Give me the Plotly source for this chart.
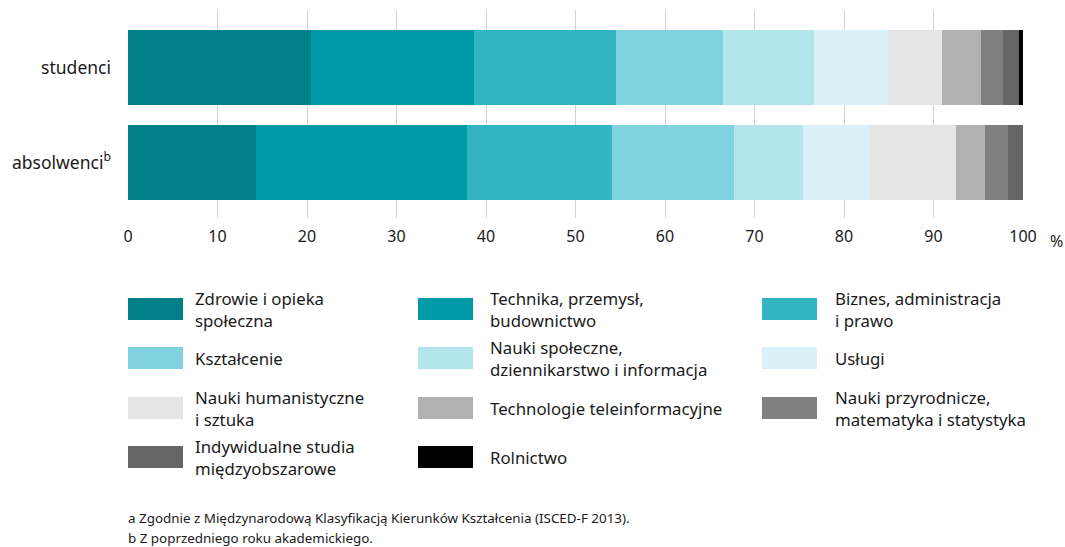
import plotly.graph_objects as go

groups = ["studenci", "absolwenci<sup>b</sup>"]

fields = [
    "Zdrowie i opieka<br>społeczna",
    "Technika, przemysł,<br>budownictwo",
    "Biznes, administracja<br>i prawo",
    "Kształcenie",
    "Nauki społeczne,<br>dziennikarstwo i informacja",
    "Usługi",
    "Nauki humanistyczne<br>i sztuka",
    "Technologie teleinformacyjne",
    "Nauki przyrodnicze,<br>matematyka i statystyka",
    "Indywidualne studia<br>międzyobszarowe",
    "Rolnictwo",
]

studenci = [20.4, 18.3, 15.8, 12.0, 10.2, 8.2, 6.0, 4.4, 2.5, 1.7, 0.5]
absolwenci = [14.3, 23.6, 16.2, 13.6, 7.7, 7.5, 9.6, 3.2, 2.6, 1.7, 0.0]

colors = ["#007f88", "#009aa6", "#33b4c3", "#80d3de", "#b3e5ec", "#daf2f7",
          "#e5e5e5", "#b1b1b1", "#808080", "#666666", "#000000"]

x_ticks = [0, 10, 20, 30, 40, 50, 60, 70, 80, 90, 100]

footnotes = [
    "a Zgodnie z Międzynarodową Klasyfikacją Kierunków Kształcenia (ISCED-F 2013).",
    "b Z poprzedniego roku akademickiego.",
]

FONT = "Noto Sans"
TXT = "#1a1a1a"
W, H = 1065, 547
L, R, T, B = 128, 42, 10, 329
pw, ph = W - L - R, H - T - B


def px_x(px):
    return (px - L) / pw


def px_y(py):
    return (H - B - py) / ph


fig = go.Figure()
for i, name in enumerate(fields):
    fig.add_trace(go.Bar(
        y=groups, x=[studenci[i], absolwenci[i]], orientation="h",
        name=name, marker=dict(color=colors[i], line_width=0),
        width=0.79, showlegend=False,
    ))

# legend drawn by hand: 3 columns, 4 rows, large swatches
col_sw = [128, 418, 762]
col_txt = [195, 490, 835]
row_y = [309, 358, 408, 457]
shapes = []
annotations = []
for i, name in enumerate(fields):
    r, c = divmod(i, 3)
    yc = row_y[r]
    shapes.append(dict(
        type="rect", xref="paper", yref="paper",
        x0=px_x(col_sw[c]), x1=px_x(col_sw[c] + 55),
        y0=px_y(yc - 11), y1=px_y(yc + 11),
        fillcolor=colors[i], line_width=0,
    ))
    annotations.append(dict(
        x=px_x(col_txt[c] - 2), y=px_y(yc), xref="paper", yref="paper",
        text=name, showarrow=False, xanchor="left", yanchor="middle",
        align="left", font=dict(family=FONT, size=16.8, color=TXT),
    ))

annotations.append(dict(
    x=px_x(1048), y=px_y(241), xref="paper", yref="paper", text="%",
    showarrow=False, xanchor="left", yanchor="middle",
    font=dict(family=FONT, size=16, color=TXT),
))

for k, note in enumerate(footnotes):
    annotations.append(dict(
        x=px_x(126), y=px_y(518 + 20 * k), xref="paper", yref="paper",
        text=note, showarrow=False, xanchor="left", yanchor="middle",
        font=dict(family=FONT, size=13.4, color=TXT),
    ))

fig.update_layout(
    barmode="stack",
    width=W, height=H,
    margin=dict(l=L, r=R, t=T, b=B),
    plot_bgcolor="white", paper_bgcolor="white",
    font=dict(family=FONT, color=TXT),
    shapes=shapes, annotations=annotations,
    bargap=0,
)
fig.update_xaxes(
    range=[0, 100], tickvals=x_ticks, showgrid=True, gridcolor="#d2d2d2",
    gridwidth=1, zeroline=False, showline=False, ticks="",
    tickfont=dict(size=16, color=TXT), ticklabelstandoff=7,
)
fig.update_yaxes(
    categoryorder="array", categoryarray=groups,
    range=[1.584, -0.605], showgrid=False, zeroline=False, ticks="",
    tickfont=dict(size=17.5, color=TXT), ticklabelstandoff=16,
)

# drop the browser's default body margin so the figure fills the window
fig.write_html("out.html", config={"displayModeBar": False},
               post_script="document.body.style.margin='0';document.body.style.overflow='hidden';")
